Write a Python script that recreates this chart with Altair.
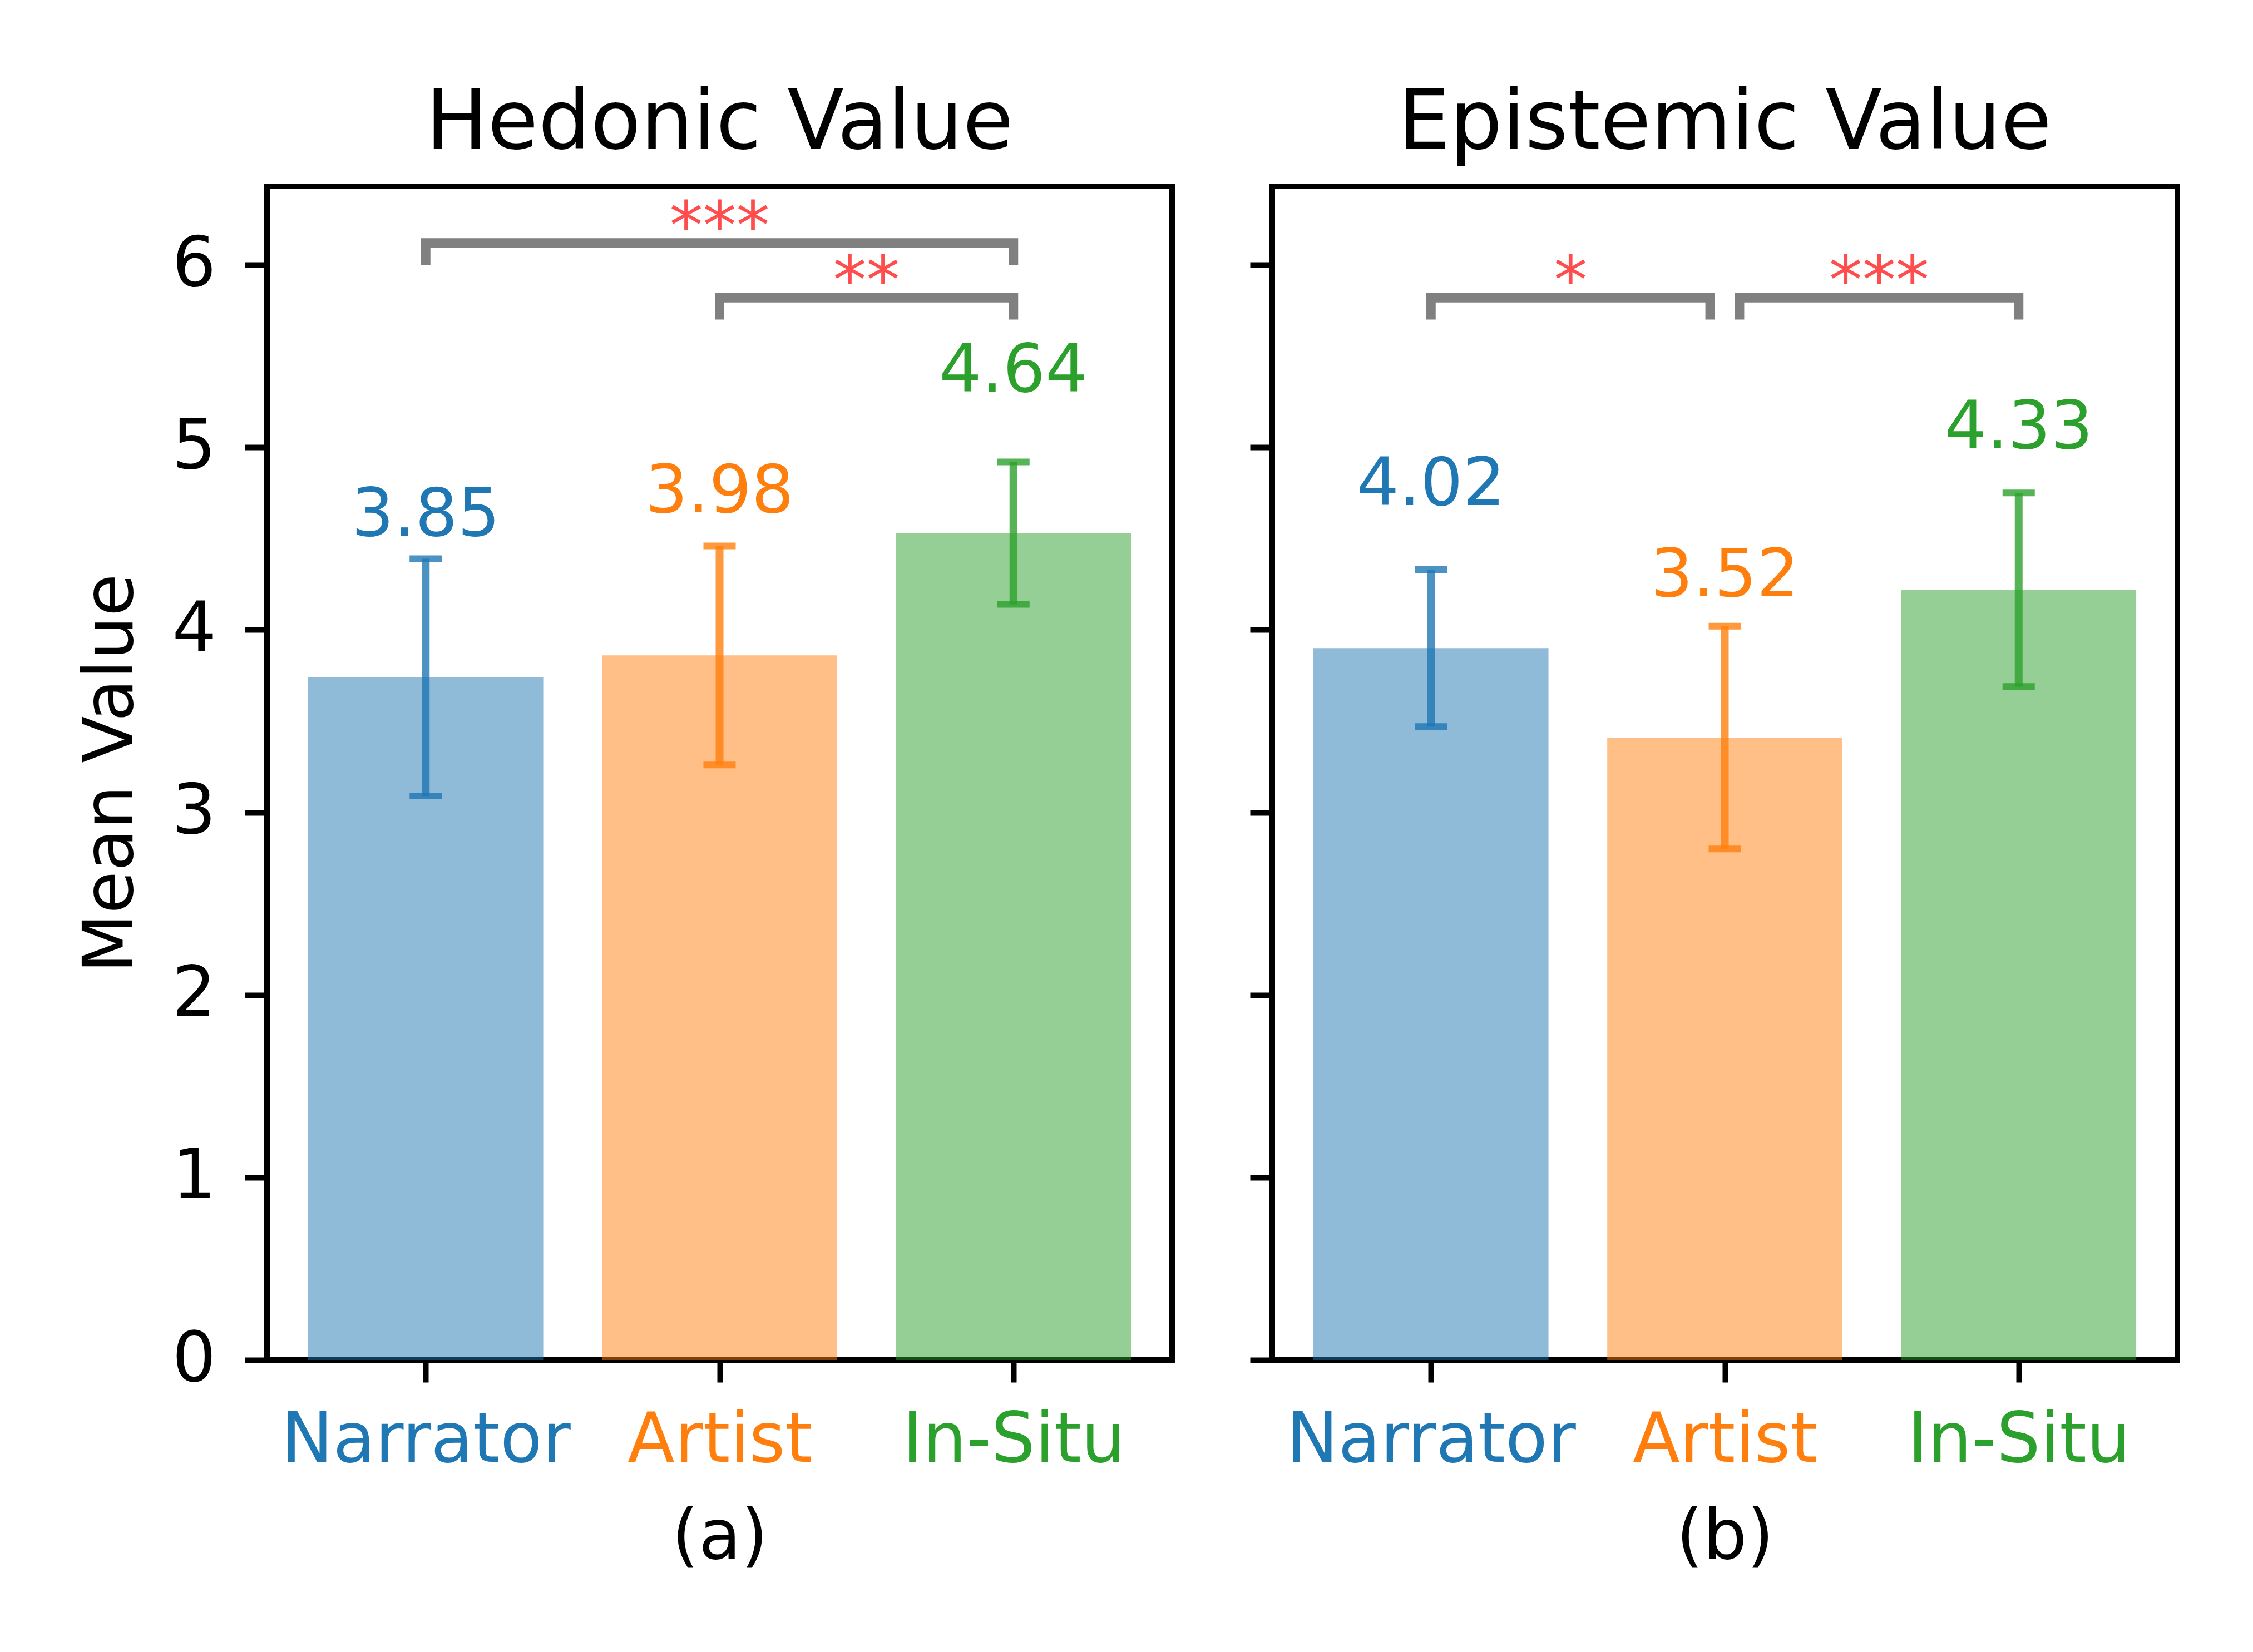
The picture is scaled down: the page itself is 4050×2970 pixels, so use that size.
import json
import altair as alt
import pandas as pd

# ---------------- data ----------------
categories = ["Narrator", "Artist", "In-Situ"]
colors = ["#1f77b4", "#ff7f0e", "#2ca02c"]

hedonic_bar = [3.74, 3.86, 4.53]
hedonic_err = [0.65, 0.60, 0.39]
hedonic_label = [3.85, 3.98, 4.64]

epistemic_bar = [3.90, 3.41, 4.22]
epistemic_err = [0.43, 0.61, 0.53]
epistemic_label = [4.02, 3.52, 4.33]

hedonic_br_x1 = [0.0, 1.0]
hedonic_br_x2 = [2.0, 2.0]
hedonic_br_y = [6.12, 5.82]
hedonic_br_stars = ["***", "**"]

epistemic_br_x1 = [0.0, 1.05]
epistemic_br_x2 = [0.95, 2.0]
epistemic_br_y = [5.82, 5.82]
epistemic_br_stars = ["*", "***"]

FONT = "DejaVu Sans"
TICK_FS = 124
LEG = 0.12


def panel(title, xtitle, bars, errs, labels, bx1, bx2, by, bstars, show_y):
    df = pd.DataFrame({"cat": categories, "i": list(range(len(categories))),
                       "mean": bars, "err": errs, "lab": labels})
    xscale = alt.Scale(domain=[-0.54, 2.54], nice=False, zero=False)
    yscale = alt.Scale(domain=[0, 6.43], nice=False, zero=False)
    color = alt.Color("cat:N", scale=alt.Scale(domain=categories, range=colors), legend=None)

    xaxis = alt.Axis(
        values=[0, 1, 2],
        labelExpr=json.dumps(categories) + "[datum.value]",
        labelColor={"condition": [{"test": "datum.value == 0", "value": colors[0]},
                                  {"test": "datum.value == 1", "value": colors[1]}],
                    "value": colors[2]},
        labelLimit=0, labelOverlap=False,
        title=xtitle, grid=False, domain=False,
        tickSize=40, tickWidth=10, tickColor="black",
        labelFontSize=TICK_FS, labelFont=FONT, labelPadding=44,
        titleFontSize=TICK_FS, titleFont=FONT, titleFontWeight="normal",
        titleColor="black", titlePadding=58,
    )
    if show_y:
        yaxis = alt.Axis(values=[0, 1, 2, 3, 4, 5, 6], title="Mean Value", grid=False,
                         domain=False, tickSize=40, tickWidth=10, tickColor="black",
                         labelFontSize=TICK_FS, labelFont=FONT, labelColor="black",
                         labelPadding=52, titleFontSize=TICK_FS, titleFont=FONT,
                         titleFontWeight="normal", titleColor="black", titlePadding=46)
    else:
        yaxis = alt.Axis(values=[0, 1, 2, 3, 4, 5, 6], title=None, labels=False, grid=False,
                         domain=False, tickSize=40, tickWidth=10, tickColor="black")

    base = alt.Chart(df)
    X = lambda f: alt.X(f, type="quantitative", scale=xscale, axis=xaxis)
    Y = lambda f: alt.Y(f, type="quantitative", scale=yscale, axis=yaxis)

    bar = base.transform_calculate(xl="datum.i - 0.4", xr="datum.i + 0.4").mark_rect(
        opacity=0.5).encode(x=X("xl"), x2="xr", y=Y("mean"), y2=alt.datum(0), color=color)

    eb = base.transform_calculate(lo="datum.mean - datum.err", hi="datum.mean + datum.err")
    err_line = eb.mark_rule(strokeWidth=14, opacity=0.8).encode(
        x=X("i"), y=Y("lo"), y2="hi", color=color)
    cap_hi = eb.mark_rule(strokeWidth=12, opacity=0.8, xOffset=-29, x2Offset=29).encode(
        x=X("i"), x2="i", y=Y("hi"), color=color)
    cap_lo = eb.mark_rule(strokeWidth=12, opacity=0.8, xOffset=-29, x2Offset=29).encode(
        x=X("i"), x2="i", y=Y("lo"), color=color)

    txt = base.transform_calculate(ty="datum.lab + 0.665").mark_text(
        font=FONT, fontSize=120, baseline="alphabetic", align="center").encode(
        x=X("i"), y=Y("ty"), text=alt.Text("lab:Q", format=".2f"), color=color)

    # brackets
    rows = []
    for k, (a, b, h) in enumerate(zip(bx1, bx2, by)):
        rows += [{"b": k, "o": 0, "x": a, "y": h - LEG},
                 {"b": k, "o": 1, "x": a, "y": h},
                 {"b": k, "o": 2, "x": b, "y": h},
                 {"b": k, "o": 3, "x": b, "y": h - LEG}]
    bdf = pd.DataFrame(rows)
    br = alt.Chart(bdf).mark_line(color="#808080", strokeWidth=17, strokeJoin="miter",
                                  strokeCap="butt").encode(
        x=X("x"), y=Y("y"), detail="b:N", order="o:Q")

    sdf = pd.DataFrame({"x1": bx1, "x2": bx2, "y": by, "s": bstars})
    stars = alt.Chart(sdf).transform_calculate(xm="(datum.x1 + datum.x2) / 2").mark_text(
        font=FONT, fontSize=120, color="#ff4d4d", baseline="alphabetic", align="center",
        dy=10).encode(x=X("xm"), y=Y("y"), text="s:N")

    return alt.layer(bar, err_line, cap_hi, cap_lo, txt, br, stars).properties(
        width=1627, height=2110,
        title=alt.TitleParams(title, font=FONT, fontSize=148, fontWeight="normal",
                              color="black", anchor="middle", baseline="alphabetic",
                              offset=-80),
    )


left = panel("Hedonic Value", "(a)", hedonic_bar, hedonic_err, hedonic_label,
             hedonic_br_x1, hedonic_br_x2, hedonic_br_y, hedonic_br_stars, True)
right = panel("Epistemic Value", "(b)", epistemic_bar, epistemic_err, epistemic_label,
              epistemic_br_x1, epistemic_br_x2, epistemic_br_y, epistemic_br_stars, False)

chart = alt.hconcat(left, right, spacing=125).properties(
    padding={"left": 125, "top": 136, "right": 100, "bottom": 100},
    background="white",
).configure_view(stroke="black", strokeWidth=10)

chart.save("out.html", embed_options={"renderer": "svg", "actions": False})
